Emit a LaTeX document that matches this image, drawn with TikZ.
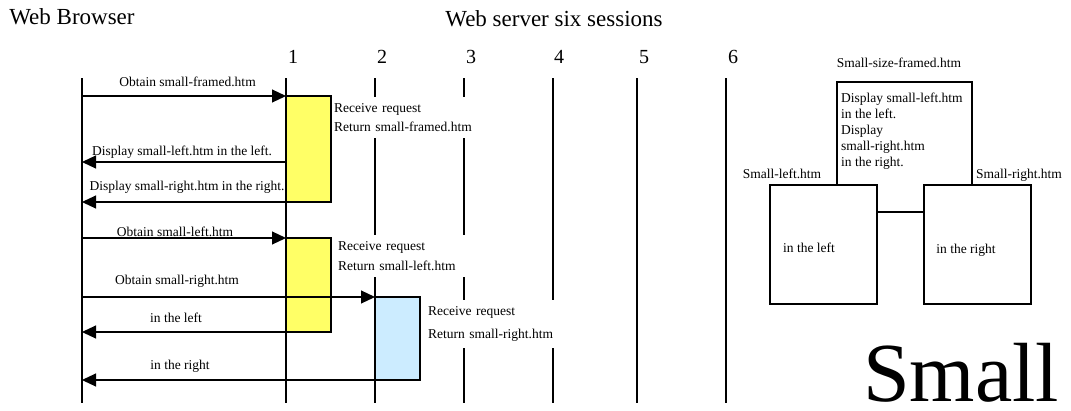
\documentclass[tikz,border=0pt]{standalone}
\usepackage{fontspec}
\setmainfont{Liberation Serif}
\usetikzlibrary{arrows.meta}
\definecolor{actyellow}{HTML}{FFFF66}
\definecolor{actblue}{HTML}{CCECFF}
\begin{document}
\begin{tikzpicture}[x=1pt,y=-1pt,
  life/.style={line width=1.1pt},
  msg/.style={line width=1.1pt,-{Triangle[length=14pt,width=13pt]}},
  lbl/.style={font=\fontsize{13.5}{16}\selectfont,anchor=base,inner sep=0pt},
  bigl/.style={font=\fontsize{23}{26}\selectfont,anchor=base,inner sep=0pt},
  numl/.style={font=\fontsize{20}{24}\selectfont,anchor=base,inner sep=0pt},
  actbox/.style={draw,line width=1.1pt,anchor=north west,inner sep=0pt,outer sep=0pt},
  note/.style={fill=white,align=left,anchor=west,inner xsep=2pt,inner ysep=0pt},
  framebox/.style={draw,line width=1.1pt,anchor=north west,inner sep=0pt,outer sep=0pt,minimum width=107pt,minimum height=119pt}
]
\useasboundingbox (0,0) rectangle (1071,410);

% titles
\node[bigl] (tbrowser) at (72,24) {Web Browser};
\node[bigl] (tserver) at (554,26) {Web server six sessions};

% session numbers
\node[numl] (n1) at (293,63) {1};
\node[numl] (n2) at (382,63) {2};
\node[numl] (n3) at (471,63) {3};
\node[numl] (n4) at (559,63) {4};
\node[numl] (n5) at (644,63) {5};
\node[numl] (n6) at (733,63) {6};

% lifelines
\coordinate (bt) at (82,78);  \coordinate (bb) at (82,403);
\coordinate (s1t) at (286,78); \coordinate (s1b) at (286,403);
\coordinate (s2t) at (375,78); \coordinate (s2b) at (375,403);
\coordinate (s3t) at (464,78); \coordinate (s3b) at (464,403);
\coordinate (s4t) at (553,78); \coordinate (s4b) at (553,403);
\coordinate (s5t) at (637,78); \coordinate (s5b) at (637,403);
\coordinate (s6t) at (726,78); \coordinate (s6b) at (726,403);
\foreach \l in {b,s1,s2,s3,s4,s5,s6} \draw[life] (\l t) -- (\l b);

% notes (white background hides the lifelines)
\node[note,text width=142pt,minimum height=41pt,font=\fontsize{13.5}{19}\selectfont] (note1) at (332,117.5)
  {Receive request\\Return small-framed.htm};
\node[note,text width=128pt,minimum height=42pt,font=\fontsize{13.5}{20}\selectfont] (note2) at (336,256)
  {Receive request\\Return small-left.htm};
\node[note,text width=130pt,minimum height=48pt,font=\fontsize{13.5}{23}\selectfont] (note3) at (426,324)
  {Receive request\\Return small-right.htm};

% activation boxes
\node[actbox,fill=actyellow,minimum width=45pt,minimum height=106pt] (act1) at (286,96) {};
\node[actbox,fill=actyellow,minimum width=45pt,minimum height=94pt] (act2) at (286,238) {};
\node[actbox,fill=actblue,minimum width=45pt,minimum height=83pt] (act3) at (375,297) {};

% messages
\coordinate (m1s) at (82,96);
\draw[msg] (m1s) -- (act1.north west);
\coordinate (m2s) at (286,162); \coordinate (m2e) at (82,162);
\draw[msg] (m2s) -- (m2e);
\coordinate (m3e) at (82,202);
\draw[msg] (act1.south west) -- (m3e);
\coordinate (m4s) at (82,238);
\draw[msg] (m4s) -- (act2.north west);
\coordinate (m5s) at (82,297);
\draw[msg] (m5s) -- (act3.north west);
\coordinate (m6e) at (82,332);
\draw[msg] (act2.south west) -- (m6e);
\coordinate (m7e) at (82,380);
\draw[msg] (act3.south west) -- (m7e);

% message labels
\node[lbl] (l1) at (187.5,86) {Obtain small-framed.htm};
\node[lbl] (l2) at (182,155) {Display small-left.htm in the left.};
\node[lbl] (l3) at (187,190) {Display small-right.htm in the right.};
\node[lbl] (l4) at (175,236) {Obtain small-left.htm};
\node[lbl] (l5) at (177,284) {Obtain small-right.htm};
\node[lbl] (l6) at (176,322) {in the left};
\node[lbl] (l7) at (180,369) {in the right};

% right-hand frame diagram
\node[lbl] (fname) at (899,67) {Small-size-framed.htm};
\node[framebox] (leftbox) at (770,185) {};
\node[framebox] (rightbox) at (924,185) {};
\draw[line width=1.1pt] (837,185) -- (837,82) -- (972,82) -- (972,185);
\node[font=\fontsize{13.5}{16}\selectfont,align=left,anchor=north west,inner sep=0pt] (ftext) at (841,92.5)
  {Display small-left.htm\\in the left.\\Display\\small-right.htm\\in the right.};
\coordinate (conn) at (0,212);
\draw[line width=1.1pt] (leftbox.east |- conn) -- (rightbox.west |- conn);
\node[lbl] (lname) at (782,178) {Small-left.htm};
\node[lbl] (rname) at (1019,178) {Small-right.htm};
\node[lbl] (ltext) at (809,252) {in the left};
\node[lbl] (rtext) at (966,253) {in the right};

\node[font=\fontsize{84}{90}\selectfont,anchor=base west,inner sep=0pt] (small) at (863,401) {Small};
\end{tikzpicture}
\end{document}
